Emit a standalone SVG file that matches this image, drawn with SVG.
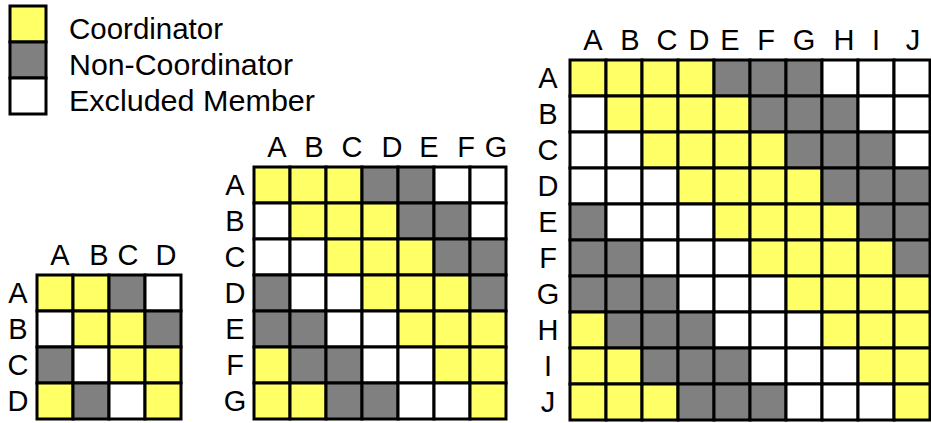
<svg xmlns="http://www.w3.org/2000/svg" width="931" height="423" viewBox="0 0 931 423">
<style>
text{font-family:"Liberation Sans",Arial,sans-serif;font-size:29px;fill:#000}
.lbl{text-anchor:middle}
.y,.g,.w{stroke:#000;stroke-width:3}
.y{fill:#FFFF66}.g{fill:#808080}.w{fill:#FFFFFF}
</style>
<rect width="931" height="423" fill="#fff"/>
<g id="legend">
<rect class="y" x="10" y="6" width="36" height="36"/>
<rect class="g" x="10" y="42" width="36" height="36"/>
<rect class="w" x="10" y="78" width="36" height="36"/>
<text x="69" y="39" textLength="154" lengthAdjust="spacingAndGlyphs">Coordinator</text>
<text x="69" y="75" textLength="224" lengthAdjust="spacingAndGlyphs">Non-Coordinator</text>
<text x="69" y="111" textLength="246" lengthAdjust="spacingAndGlyphs">Excluded Member</text>
</g>
<g id="grid4">
<g class="lbl">
<text x="60" y="265">A</text><text x="99" y="265">B</text><text x="128" y="265">C</text><text x="166" y="265">D</text>
<text x="18" y="303">A</text><text x="18" y="339">B</text><text x="18" y="375">C</text><text x="18" y="411">D</text>
</g>
<rect class="y" x="37" y="275" width="36" height="36"/><rect class="y" x="73" y="275" width="36" height="36"/><rect class="g" x="109" y="275" width="36" height="36"/><rect class="w" x="145" y="275" width="36" height="36"/>
<rect class="w" x="37" y="311" width="36" height="36"/><rect class="y" x="73" y="311" width="36" height="36"/><rect class="y" x="109" y="311" width="36" height="36"/><rect class="g" x="145" y="311" width="36" height="36"/>
<rect class="g" x="37" y="347" width="36" height="36"/><rect class="w" x="73" y="347" width="36" height="36"/><rect class="y" x="109" y="347" width="36" height="36"/><rect class="y" x="145" y="347" width="36" height="36"/>
<rect class="y" x="37" y="383" width="36" height="36"/><rect class="g" x="73" y="383" width="36" height="36"/><rect class="w" x="109" y="383" width="36" height="36"/><rect class="y" x="145" y="383" width="36" height="36"/>
</g>
<g id="grid7">
<g class="lbl">
<text x="277" y="157">A</text><text x="314" y="157">B</text><text x="352" y="157">C</text><text x="392" y="157">D</text><text x="429" y="157">E</text><text x="466" y="157">F</text><text x="496" y="157">G</text>
<text x="235" y="195">A</text><text x="235" y="231">B</text><text x="235" y="267">C</text><text x="235" y="303">D</text><text x="235" y="339">E</text><text x="235" y="375">F</text><text x="235" y="411">G</text>
</g>
<rect class="y" x="254" y="167" width="36" height="36"/><rect class="y" x="290" y="167" width="36" height="36"/><rect class="y" x="326" y="167" width="36" height="36"/><rect class="g" x="362" y="167" width="36" height="36"/><rect class="g" x="398" y="167" width="36" height="36"/><rect class="w" x="434" y="167" width="36" height="36"/><rect class="w" x="470" y="167" width="36" height="36"/>
<rect class="w" x="254" y="203" width="36" height="36"/><rect class="y" x="290" y="203" width="36" height="36"/><rect class="y" x="326" y="203" width="36" height="36"/><rect class="y" x="362" y="203" width="36" height="36"/><rect class="g" x="398" y="203" width="36" height="36"/><rect class="g" x="434" y="203" width="36" height="36"/><rect class="w" x="470" y="203" width="36" height="36"/>
<rect class="w" x="254" y="239" width="36" height="36"/><rect class="w" x="290" y="239" width="36" height="36"/><rect class="y" x="326" y="239" width="36" height="36"/><rect class="y" x="362" y="239" width="36" height="36"/><rect class="y" x="398" y="239" width="36" height="36"/><rect class="g" x="434" y="239" width="36" height="36"/><rect class="g" x="470" y="239" width="36" height="36"/>
<rect class="g" x="254" y="275" width="36" height="36"/><rect class="w" x="290" y="275" width="36" height="36"/><rect class="w" x="326" y="275" width="36" height="36"/><rect class="y" x="362" y="275" width="36" height="36"/><rect class="y" x="398" y="275" width="36" height="36"/><rect class="y" x="434" y="275" width="36" height="36"/><rect class="g" x="470" y="275" width="36" height="36"/>
<rect class="g" x="254" y="311" width="36" height="36"/><rect class="g" x="290" y="311" width="36" height="36"/><rect class="w" x="326" y="311" width="36" height="36"/><rect class="w" x="362" y="311" width="36" height="36"/><rect class="y" x="398" y="311" width="36" height="36"/><rect class="y" x="434" y="311" width="36" height="36"/><rect class="y" x="470" y="311" width="36" height="36"/>
<rect class="y" x="254" y="347" width="36" height="36"/><rect class="g" x="290" y="347" width="36" height="36"/><rect class="g" x="326" y="347" width="36" height="36"/><rect class="w" x="362" y="347" width="36" height="36"/><rect class="w" x="398" y="347" width="36" height="36"/><rect class="y" x="434" y="347" width="36" height="36"/><rect class="y" x="470" y="347" width="36" height="36"/>
<rect class="y" x="254" y="383" width="36" height="36"/><rect class="y" x="290" y="383" width="36" height="36"/><rect class="g" x="326" y="383" width="36" height="36"/><rect class="g" x="362" y="383" width="36" height="36"/><rect class="w" x="398" y="383" width="36" height="36"/><rect class="w" x="434" y="383" width="36" height="36"/><rect class="y" x="470" y="383" width="36" height="36"/>
</g>
<g id="grid10">
<g class="lbl">
<text x="593" y="50">A</text><text x="630" y="50">B</text><text x="667" y="50">C</text><text x="699" y="50">D</text><text x="730" y="50">E</text><text x="766" y="50">F</text><text x="804" y="50">G</text><text x="844" y="50">H</text><text x="876" y="50">I</text><text x="913" y="50">J</text>
<text x="548" y="88">A</text><text x="548" y="124">B</text><text x="548" y="160">C</text><text x="548" y="196">D</text><text x="548" y="232">E</text><text x="548" y="268">F</text><text x="548" y="304">G</text><text x="548" y="340">H</text><text x="548" y="376">I</text><text x="548" y="412">J</text>
</g>
<rect class="y" x="570" y="60" width="36" height="36"/><rect class="y" x="606" y="60" width="36" height="36"/><rect class="y" x="642" y="60" width="36" height="36"/><rect class="y" x="678" y="60" width="36" height="36"/><rect class="g" x="714" y="60" width="36" height="36"/><rect class="g" x="750" y="60" width="36" height="36"/><rect class="g" x="786" y="60" width="36" height="36"/><rect class="w" x="822" y="60" width="36" height="36"/><rect class="w" x="858" y="60" width="36" height="36"/><rect class="w" x="894" y="60" width="36" height="36"/>
<rect class="w" x="570" y="96" width="36" height="36"/><rect class="y" x="606" y="96" width="36" height="36"/><rect class="y" x="642" y="96" width="36" height="36"/><rect class="y" x="678" y="96" width="36" height="36"/><rect class="y" x="714" y="96" width="36" height="36"/><rect class="g" x="750" y="96" width="36" height="36"/><rect class="g" x="786" y="96" width="36" height="36"/><rect class="g" x="822" y="96" width="36" height="36"/><rect class="w" x="858" y="96" width="36" height="36"/><rect class="w" x="894" y="96" width="36" height="36"/>
<rect class="w" x="570" y="132" width="36" height="36"/><rect class="w" x="606" y="132" width="36" height="36"/><rect class="y" x="642" y="132" width="36" height="36"/><rect class="y" x="678" y="132" width="36" height="36"/><rect class="y" x="714" y="132" width="36" height="36"/><rect class="y" x="750" y="132" width="36" height="36"/><rect class="g" x="786" y="132" width="36" height="36"/><rect class="g" x="822" y="132" width="36" height="36"/><rect class="g" x="858" y="132" width="36" height="36"/><rect class="w" x="894" y="132" width="36" height="36"/>
<rect class="w" x="570" y="168" width="36" height="36"/><rect class="w" x="606" y="168" width="36" height="36"/><rect class="w" x="642" y="168" width="36" height="36"/><rect class="y" x="678" y="168" width="36" height="36"/><rect class="y" x="714" y="168" width="36" height="36"/><rect class="y" x="750" y="168" width="36" height="36"/><rect class="y" x="786" y="168" width="36" height="36"/><rect class="g" x="822" y="168" width="36" height="36"/><rect class="g" x="858" y="168" width="36" height="36"/><rect class="g" x="894" y="168" width="36" height="36"/>
<rect class="g" x="570" y="204" width="36" height="36"/><rect class="w" x="606" y="204" width="36" height="36"/><rect class="w" x="642" y="204" width="36" height="36"/><rect class="w" x="678" y="204" width="36" height="36"/><rect class="y" x="714" y="204" width="36" height="36"/><rect class="y" x="750" y="204" width="36" height="36"/><rect class="y" x="786" y="204" width="36" height="36"/><rect class="y" x="822" y="204" width="36" height="36"/><rect class="g" x="858" y="204" width="36" height="36"/><rect class="g" x="894" y="204" width="36" height="36"/>
<rect class="g" x="570" y="240" width="36" height="36"/><rect class="g" x="606" y="240" width="36" height="36"/><rect class="w" x="642" y="240" width="36" height="36"/><rect class="w" x="678" y="240" width="36" height="36"/><rect class="w" x="714" y="240" width="36" height="36"/><rect class="y" x="750" y="240" width="36" height="36"/><rect class="y" x="786" y="240" width="36" height="36"/><rect class="y" x="822" y="240" width="36" height="36"/><rect class="y" x="858" y="240" width="36" height="36"/><rect class="g" x="894" y="240" width="36" height="36"/>
<rect class="g" x="570" y="276" width="36" height="36"/><rect class="g" x="606" y="276" width="36" height="36"/><rect class="g" x="642" y="276" width="36" height="36"/><rect class="w" x="678" y="276" width="36" height="36"/><rect class="w" x="714" y="276" width="36" height="36"/><rect class="w" x="750" y="276" width="36" height="36"/><rect class="y" x="786" y="276" width="36" height="36"/><rect class="y" x="822" y="276" width="36" height="36"/><rect class="y" x="858" y="276" width="36" height="36"/><rect class="y" x="894" y="276" width="36" height="36"/>
<rect class="y" x="570" y="312" width="36" height="36"/><rect class="g" x="606" y="312" width="36" height="36"/><rect class="g" x="642" y="312" width="36" height="36"/><rect class="g" x="678" y="312" width="36" height="36"/><rect class="w" x="714" y="312" width="36" height="36"/><rect class="w" x="750" y="312" width="36" height="36"/><rect class="w" x="786" y="312" width="36" height="36"/><rect class="y" x="822" y="312" width="36" height="36"/><rect class="y" x="858" y="312" width="36" height="36"/><rect class="y" x="894" y="312" width="36" height="36"/>
<rect class="y" x="570" y="348" width="36" height="36"/><rect class="y" x="606" y="348" width="36" height="36"/><rect class="g" x="642" y="348" width="36" height="36"/><rect class="g" x="678" y="348" width="36" height="36"/><rect class="g" x="714" y="348" width="36" height="36"/><rect class="w" x="750" y="348" width="36" height="36"/><rect class="w" x="786" y="348" width="36" height="36"/><rect class="w" x="822" y="348" width="36" height="36"/><rect class="y" x="858" y="348" width="36" height="36"/><rect class="y" x="894" y="348" width="36" height="36"/>
<rect class="y" x="570" y="384" width="36" height="36"/><rect class="y" x="606" y="384" width="36" height="36"/><rect class="y" x="642" y="384" width="36" height="36"/><rect class="g" x="678" y="384" width="36" height="36"/><rect class="g" x="714" y="384" width="36" height="36"/><rect class="g" x="750" y="384" width="36" height="36"/><rect class="w" x="786" y="384" width="36" height="36"/><rect class="w" x="822" y="384" width="36" height="36"/><rect class="w" x="858" y="384" width="36" height="36"/><rect class="y" x="894" y="384" width="36" height="36"/>
</g>
</svg>
